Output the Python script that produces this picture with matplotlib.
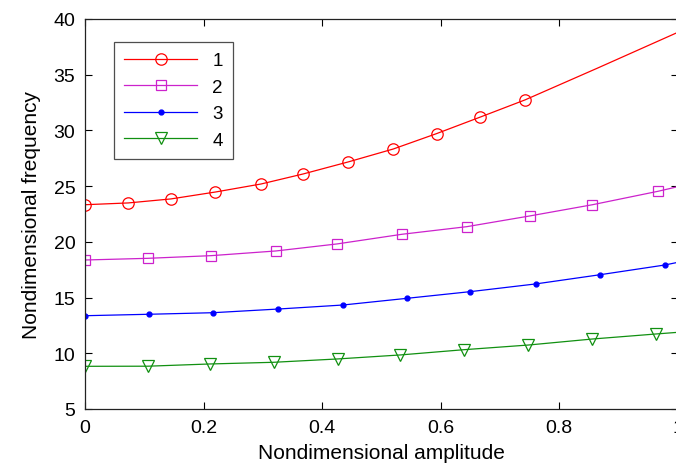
import numpy as np
import matplotlib.pyplot as plt

plt.rcParams['font.family'] = ['Liberation Sans', 'DejaVu Sans']

# values (last point of each line has no marker)
x1 = [0, 0.073, 0.145, 0.22, 0.297, 0.368, 0.444, 0.52, 0.593, 0.667, 0.742, 0.865, 1.0]
y1 = [23.33, 23.49, 23.85, 24.47, 25.19, 26.09, 27.17, 28.33, 29.71, 31.2, 32.73, 35.6, 38.8]
x2 = [0, 0.106, 0.213, 0.322, 0.425, 0.535, 0.644, 0.750, 0.856, 0.967, 1.0]
y2 = [18.37, 18.52, 18.76, 19.18, 19.81, 20.68, 21.36, 22.32, 23.33, 24.54, 24.95]
x3 = [0, 0.108, 0.216, 0.326, 0.435, 0.543, 0.65, 0.76, 0.869, 0.978, 1.0]
y3 = [13.37, 13.50, 13.64, 13.97, 14.33, 14.93, 15.53, 16.22, 17.05, 17.92, 18.16]
x4 = [0, 0.106, 0.211, 0.318, 0.426, 0.532, 0.639, 0.748, 0.856, 0.963, 1.0]
y4 = [8.83, 8.84, 9.04, 9.19, 9.49, 9.85, 10.32, 10.74, 11.28, 11.73, 11.88]
labels = ['1', '2', '3', '4']

fig = plt.figure(figsize=(6.76, 4.64), dpi=100)
ax = fig.add_axes([0.1257, 0.1164, 0.877, 0.8406])

lw = 0.9
ax.plot(x1, y1, color='#ff0000', lw=lw, marker='o', ms=8.2, mfc='none', mew=0.9,
        markevery=list(range(11)), label=labels[0])
ax.plot(x2, y2, color='#cc22cc', lw=lw, marker='s', ms=7.8, mfc='none', mew=0.9,
        markevery=list(range(10)), label=labels[1])
ax.plot(x3, y3, color='#0000ff', lw=lw, marker='.', ms=7,
        markevery=list(range(10)), label=labels[2])
ax.plot(x4, y4, color='#119011', lw=lw, marker='v', ms=8.5, mfc='none', mew=0.9,
        markevery=list(range(10)), label=labels[3])

ax.set_xlim(0, 1)
ax.set_ylim(5, 40)
ax.set_xticks([0, 0.2, 0.4, 0.6, 0.8, 1.0])
ax.set_xticklabels(['0', '0.2', '0.4', '0.6', '0.8', '1'])
ax.set_yticks(range(5, 41, 5))
ax.tick_params(direction='in', length=5, width=0.8, top=True, right=True,
               labelsize=14, pad=7)
for s in ax.spines.values():
    s.set_linewidth(0.9)
    s.set_color('#222222')

ax.set_xlabel('Nondimensional amplitude', fontsize=15, labelpad=5)
ax.set_ylabel('Nondimensional frequency', fontsize=15, labelpad=9)

leg = ax.legend(loc='upper left', bbox_to_anchor=(0.049, 0.941), fontsize=13.5,
                fancybox=False, edgecolor='#222222', handlelength=3.9,
                borderpad=0.55, labelspacing=0.5, handletextpad=0.8,
                borderaxespad=0)
leg.get_frame().set_linewidth(0.9)

fig.savefig('out.png', dpi=100)
